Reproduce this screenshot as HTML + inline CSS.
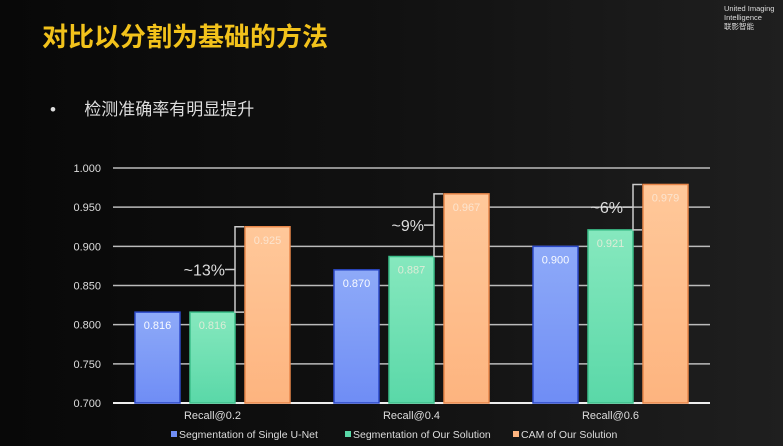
<!DOCTYPE html>
<html><head><meta charset="utf-8"><style>
body{margin:0;width:783px;height:446px;overflow:hidden;background:linear-gradient(90deg,#080808 0%,#111 50%,#1f1f1f 100%);font-family:"Liberation Sans","Noto Sans CJK SC",sans-serif;}
#title{position:absolute;left:42px;top:17px;font-size:26px;font-weight:bold;color:#f2c21b;}
#bullet{position:absolute;left:50px;top:95px;font-size:17px;color:#ddd;}
#logo{position:absolute;left:724px;top:4px;font-size:7.5px;color:#ddd;line-height:9px;white-space:nowrap;}
svg{position:absolute;left:0;top:0;}
</style></head><body>
<div id="title">对比以分割为基础的方法</div>
<div id="bullet">•&nbsp;&nbsp;&nbsp;&nbsp;&nbsp;&nbsp;检测准确率有明显提升</div>
<div id="logo">United Imaging<br>Intelligence<br>联影智能</div>
<svg id="chart" width="783" height="446">
<defs>
<linearGradient id="gb" x1="0" y1="0" x2="0" y2="1"><stop offset="0" stop-color="#8eaaf8"/><stop offset="1" stop-color="#6f8df5"/></linearGradient>
<linearGradient id="gg" x1="0" y1="0" x2="0" y2="1"><stop offset="0" stop-color="#86e8be"/><stop offset="1" stop-color="#5ad8a8"/></linearGradient>
<linearGradient id="go" x1="0" y1="0" x2="0" y2="1"><stop offset="0" stop-color="#ffc89a"/><stop offset="1" stop-color="#fdb47f"/></linearGradient>
</defs>
</svg>
<script>
const categories=["Recall@0.2","Recall@0.4","Recall@0.6"];
const seriesNames=["Segmentation of Single U-Net","Segmentation of Our Solution","CAM of Our Solution"];
const unet=[0.816,0.870,0.900];
const ours=[0.816,0.887,0.921];
const cam=[0.925,0.967,0.979];
const valueLabels=[["0.816","0.870","0.900"],["0.816","0.887","0.921"],["0.925","0.967","0.979"]];
const ticks=[0.700,0.750,0.800,0.850,0.900,0.950,1.000];
const gains=["~13%","~9%","~6%"];
const NS="http://www.w3.org/2000/svg",svg=document.getElementById('chart');
const X0=113,X1=710,Y0=403,Y1=168,vmin=0.7,vmax=1.0;
const y=v=>Y0-(v-vmin)/(vmax-vmin)*(Y0-Y1);
const gw=(X1-X0)/categories.length;
const xc=i=>X0+gw*(i+0.5);
function mk(t,a,txt){const e=document.createElementNS(NS,t);for(const k in a)e.setAttribute(k,a[k]);if(txt!==undefined)e.textContent=txt;svg.appendChild(e);return e;}
ticks.forEach(t=>{
 const l=mk('line',{x1:X0,x2:X1,y1:y(t),y2:y(t),stroke:t===0.7?'#eee':'#bbb','stroke-width':t===0.7?2:1.5});
 
 
 const tx=mk('text',{x:X0-12,y:y(t)+4,'text-anchor':'end','font-size':11,fill:'#ddd'},t.toFixed(3));
 
 
});
const series=[unet,ours,cam],fills=['url(#gb)','url(#gg)','url(#go)'],strokes=['#2c49c8','#3cbf8a','#e8874a'];
const bw=45,step=55;
categories.forEach((c,i)=>{
 series.forEach((s,j)=>{
  const bx=xc(i)+(j-1)*step-bw/2;
  const r=mk('rect',{x:bx,y:y(s[i]),width:bw,height:Y0-y(s[i]),fill:fills[j],stroke:strokes[j],'stroke-width':1.5});
  
  
  const vt=mk('text',{x:bx+bw/2,y:y(s[i])+17,'text-anchor':'middle','font-size':11,fill:j===0?'#fff':'#fbeee0','fill-opacity':j===0?0.95:0.75},valueLabels[j][i]);
  
  
 });
 const ct=mk('text',{x:xc(i),y:419,'text-anchor':'middle','font-size':11,fill:'#ddd'},c);
 
 
 const bx=xc(i)+step/2-5;
 const top=y(cam[i]),bot=y(ours[i]);
 const p=mk('path',{d:`M${bx+9},${top}H${bx}V${bot}H${bx+9}M${bx},${(top+bot)/2}H${bx-10}`,stroke:'#ccc','stroke-width':1.5,fill:'none'});
 
 
 const g=mk('text',{x:bx-10,y:(top+bot)/2+6,'text-anchor':'end','font-size':16,fill:'#ddd'},gains[i]);
 
 
});
const lx=[171,345,513];
seriesNames.forEach((n,j)=>{
 const r=mk('rect',{x:lx[j],y:431,width:6,height:6,fill:['#6f8df5','#5ad8a8','#fdb47f'][j]});
 
 
 const t=mk('text',{x:lx[j]+8,y:438,'font-size':10.5,fill:'#ddd'},n);
 
 
});
</script>
</body></html>
